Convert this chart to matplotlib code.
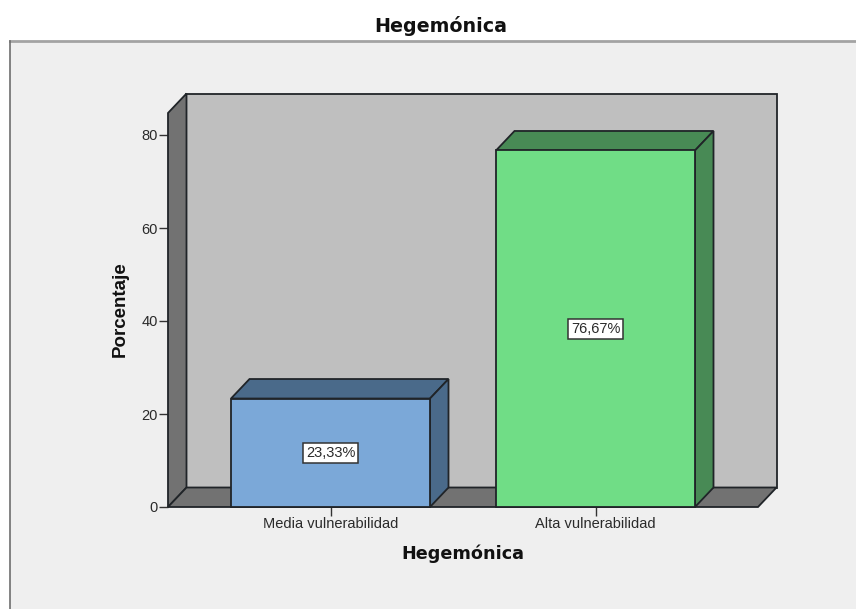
import matplotlib
matplotlib.use("Agg")
import matplotlib.pyplot as plt
from matplotlib.patches import Rectangle
from matplotlib.lines import Line2D

categories = ["Media vulnerabilidad", "Alta vulnerabilidad"]
values = [23.33, 76.67]
value_labels = ["23,33%", "76,67%"]
yticks = [0, 20, 40, 60, 80]
title = "Hegemónica"
xlabel = "Hegemónica"
ylabel = "Porcentaje"

W, H = 856, 609
plt.rcParams['font.family'] = ['Liberation Sans', 'DejaVu Sans']
fig = plt.figure(figsize=(W/100, H/100), dpi=100, facecolor='white')

# outer panel, kept behind the axes
fig.add_artist(Rectangle((10/W, 0), (W-10)/W, (H-41)/H, transform=fig.transFigure,
                         facecolor='#efefef', edgecolor='none', zorder=-3))
fig.add_artist(Line2D([10/W, 1], [1-41/H, 1-41/H], transform=fig.transFigure, color='#a3a3a3', lw=2, zorder=-2))
fig.add_artist(Line2D([10/W, 10/W], [0, 1-41/H], transform=fig.transFigure, color='#6e6e6e', lw=1.2, zorder=-2))

L, R, B, T = 168, 758, 507, 113
ax = fig.add_axes([L/W, 1-B/H, (R-L)/W, (B-T)/H])
sp = 265.0
c0 = 330.5
ax.set_xlim((L-c0)/sp, (R-c0)/sp)
ymax = (B-T)/4.65
ax.set_ylim(0, ymax)
ax.patch.set_visible(False)
for s in ax.spines.values():
    s.set_visible(False)

dx = 18.5/sp
dy = 19.5/4.65
x0, x1 = ax.get_xlim()
edge = '#202428'
lw = 1.3
# back wall, left wall, floor
ax.fill([x0+dx, x1+dx, x1+dx, x0+dx], [dy, dy, ymax+dy, ymax+dy], fc='#bfbfbf', ec=edge, lw=lw, clip_on=False, zorder=1)
ax.fill([x0, x0+dx, x0+dx, x0], [0, dy, ymax+dy, ymax], fc='#727272', ec=edge, lw=lw, clip_on=False, zorder=2)
ax.fill([x0, x1, x1+dx, x0+dx], [0, 0, dy, dy], fc='#727272', ec=edge, lw=lw, clip_on=False, zorder=2)

bw = 199/sp
fronts = ['#7ba8d8', '#70dd86']
darks = ['#4a6a8a', '#488a55']
for i, v in enumerate(values):
    a, b = i-bw/2, i+bw/2
    ax.bar(i, v, width=bw, color=fronts[i], edgecolor=edge, lw=lw, zorder=5, clip_on=False)
    ax.fill([a, b, b+dx, a+dx], [v, v, v+dy, v+dy], fc=darks[i], ec=edge, lw=lw, zorder=4, clip_on=False)
    ax.fill([b, b+dx, b+dx, b], [0, dy, v+dy, v], fc=darks[i], ec=edge, lw=lw, zorder=4, clip_on=False)
    ax.text(i, v/2, value_labels[i], ha='center', va='center', fontsize=10.5, color='#2a2a2a', zorder=6,
            bbox=dict(boxstyle='square,pad=0.2', fc='white', ec='#333333', lw=1.1))

ax.set_xticks(range(len(categories)))
ax.set_xticklabels(categories, fontsize=10.5, color='#2a2a2a')
ax.set_yticks(yticks)
ax.set_yticklabels([str(t) for t in yticks], fontsize=10.5, color='#2a2a2a')
ax.tick_params(axis='both', length=6.5, width=1, color='#333333', pad=1)
ax.set_xlabel(xlabel, fontsize=12.7, fontweight='bold', labelpad=9.6, color='#111111', family='DejaVu Sans')
ax.set_ylabel(ylabel, fontsize=13.5, fontweight='bold', color='#111111')
ax.yaxis.set_label_coords(-0.0672, 0.503)
fig.text(440.5/W, 1-26.5/H, title, ha='center', va='center', fontsize=13.7, fontweight='bold', color='#111111', family='DejaVu Sans')
fig.savefig('out.png', dpi=100)
